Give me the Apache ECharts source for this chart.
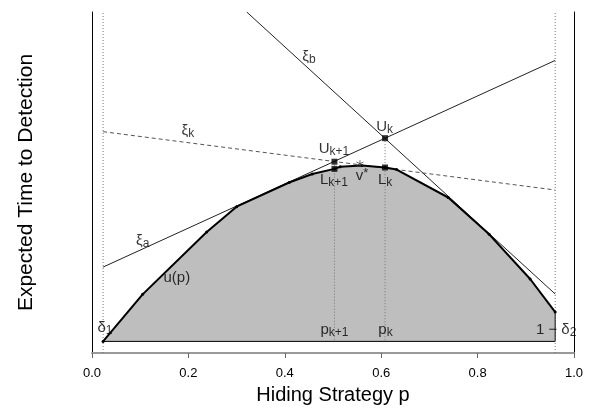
<!DOCTYPE html>
<html>
<head>
<meta charset="utf-8">
<script src="https://cdn.jsdelivr.net/npm/echarts@6/dist/echarts.min.js"></script>
<style>
  html, body { margin: 0; padding: 0; background: #fff; }
  #chart { width: 600px; height: 420px; }
</style>
</head>
<body>
<div id="chart"></div>
<script>
// u(p): vertices of the concave curve (y in arbitrary time units, baseline at 0)
const curveX = [0.023, 0.105, 0.238, 0.300, 0.409, 0.457, 0.503, 0.515, 0.560, 0.608, 0.632, 0.739, 0.824, 0.909, 0.961];
const curveY = [0, 1.38, 3.21, 3.95, 4.66, 4.91, 5.06, 5.12, 5.16, 5.10, 5.04, 4.22, 3.14, 1.83, 0.86];

const delta1 = 0.023;
const oneMinusDelta2 = 0.961;

// straight lines xi_a, xi_b, xi_k as [x, y] end points
const xiA = [[0.023, 2.18], [0.961, 8.24]];
const xiB = [[0.321, 9.66], [0.961, 1.39]];
const xiK = [[0.023, 6.15], [0.961, 4.44]];

const pK1 = 0.503, pK = 0.608;
const upperPts = [[pK1, 5.27], [pK, 5.96]]; // U_{k+1}, U_k
const lowerPts = [[pK1, 5.06], [pK, 5.10]]; // L_{k+1}, L_k
const vStar = [0.556, 5.21];

const yMin = -0.34, yMax = 9.66;

// text annotations
const labelText = ['{m|ξ}{s|b}', '{m|ξ}{s|k}', '{m|ξ}{s|a}', '{m|u(p)}',
  '{m|U}{s|k}', '{m|U}{s|k+1}', '{m|L}{s|k+1}', '{m|L}{s|k}', '{m|v}{t|*}',
  '{m|p}{s|k+1}', '{m|p}{s|k}', '{m|δ}{s|1}', '{m|1 − δ}{s|2}'];
const labelX = [0.450, 0.199, 0.105, 0.176, 0.607, 0.502, 0.502, 0.608, 0.560, 0.503, 0.609, 0.027, 0.963];
const labelY = [8.34, 6.17, 2.95, 1.86, 6.29, 5.65, 4.74, 4.74, 4.85, 0.34, 0.34, 0.40, 0.34];

const FONT = 'Liberation Sans, Arial, Helvetica, sans-serif';

const chart = echarts.init(document.getElementById('chart'), null, { renderer: 'canvas' });

const thin = (color, type) => ({ color: color, width: 1, type: type || 'solid' });

const option = {
  animation: false,
  backgroundColor: '#fff',
  grid: { left: 92, right: 26, top: 12, bottom: 67, outerBoundsMode: 'none' },
  xAxis: {
    type: 'value', min: 0, max: 1, interval: 0.2,
    name: 'Hiding Strategy p', nameLocation: 'middle', nameGap: 32,
    nameTextStyle: { fontFamily: FONT, fontSize: 20, color: '#000' },
    axisLine: { show: true, onZero: false, lineStyle: { color: '#999', width: 2 } },
    axisTick: { show: true, length: 5, lineStyle: { color: '#666' } },
    axisLabel: { fontFamily: FONT, fontSize: 13, color: '#000', margin: 14,
      formatter: v => v.toFixed(1) },
    splitLine: { show: false }
  },
  yAxis: [{
    type: 'value', min: yMin, max: yMax,
    name: 'Expected Time to Detection', nameLocation: 'middle', nameGap: 55,
    nameTextStyle: { fontFamily: FONT, fontSize: 21, color: '#000' },
    axisLine: { show: true, onZero: false, lineStyle: { color: '#000', width: 1 } },
    axisTick: { show: false }, axisLabel: { show: false }, splitLine: { show: false }
  }, {
    type: 'value', min: yMin, max: yMax, position: 'right',
    axisLine: { show: true, onZero: false, lineStyle: { color: '#000', width: 1 } },
    axisTick: { show: false }, axisLabel: { show: false }, splitLine: { show: false }
  }],
  series: [
    // shaded region under u(p)
    {
      type: 'line', z: 1, silent: true,
      data: curveX.map((x, i) => [x, curveY[i]]),
      symbol: 'none',
      lineStyle: { width: 0 },
      areaStyle: { color: '#bebebe', opacity: 1, origin: 0 }
    },
    // bottom edge and right edge of the region
    {
      type: 'line', z: 2, silent: true, symbol: 'none',
      data: [[oneMinusDelta2, curveY[curveY.length - 1]], [oneMinusDelta2, 0], [delta1, 0]],
      lineStyle: thin('#000')
    },
    // boundaries delta1 and 1 - delta2
    { type: 'line', z: 2, silent: true, symbol: 'none',
      data: [[delta1, yMin], [delta1, yMax]], lineStyle: thin('#777', [1, 2]) },
    { type: 'line', z: 2, silent: true, symbol: 'none',
      data: [[oneMinusDelta2, yMin], [oneMinusDelta2, yMax]], lineStyle: thin('#777', [1, 2]) },
    // p_{k+1}, p_k drop lines
    { type: 'line', z: 2, silent: true, symbol: 'none',
      data: [[pK1, upperPts[0][1]], [pK1, 0]], lineStyle: thin('#777', [1, 2]) },
    { type: 'line', z: 2, silent: true, symbol: 'none',
      data: [[pK, upperPts[1][1]], [pK, 0]], lineStyle: thin('#777', [1, 2]) },
    // xi lines
    { type: 'line', z: 3, silent: true, symbol: 'none', data: xiA, lineStyle: thin('#222') },
    { type: 'line', z: 3, silent: true, symbol: 'none', data: xiB, lineStyle: thin('#222') },
    { type: 'line', z: 3, silent: true, symbol: 'none', data: xiK, lineStyle: thin('#555', [4, 3]) },
    // u(p) itself
    {
      type: 'line', z: 4, silent: true,
      data: curveX.map((x, i) => [x, curveY[i]]),
      symbol: 'circle', symbolSize: 3, showAllSymbol: true,
      itemStyle: { color: '#000' },
      lineStyle: { color: '#000', width: 2 }
    },
    // U and L points
    { type: 'scatter', z: 5, silent: true, symbol: 'rect', symbolSize: 6,
      itemStyle: { color: '#000' }, data: upperPts.concat(lowerPts) },
    // v*
    { type: 'scatter', z: 5, silent: true, symbolSize: 7,
      symbol: 'path://M0,-5L0,5M-4.3,-2.5L4.3,2.5M-4.3,2.5L4.3,-2.5',
      itemStyle: { color: 'none', borderColor: '#444', borderWidth: 1 }, data: [vStar] },
    // annotations
    {
      type: 'scatter', z: 6, silent: true, symbolSize: 0,
      data: labelText.map((t, i) => ({ value: [labelX[i], labelY[i]], t: t })),
      label: {
        show: true, position: 'inside', align: 'center', verticalAlign: 'middle',
        formatter: p => p.data.t,
        rich: {
          m: { fontFamily: FONT, fontSize: 15, color: '#000', lineHeight: 18, verticalAlign: 'middle' },
          s: { fontFamily: FONT, fontSize: 12, color: '#000', lineHeight: 12, verticalAlign: 'bottom' },
          t: { fontFamily: FONT, fontSize: 13, color: '#000', lineHeight: 13, verticalAlign: 'top' }
        }
      }
    }
  ]
};

chart.setOption(option);
</script>
</body>
</html>
